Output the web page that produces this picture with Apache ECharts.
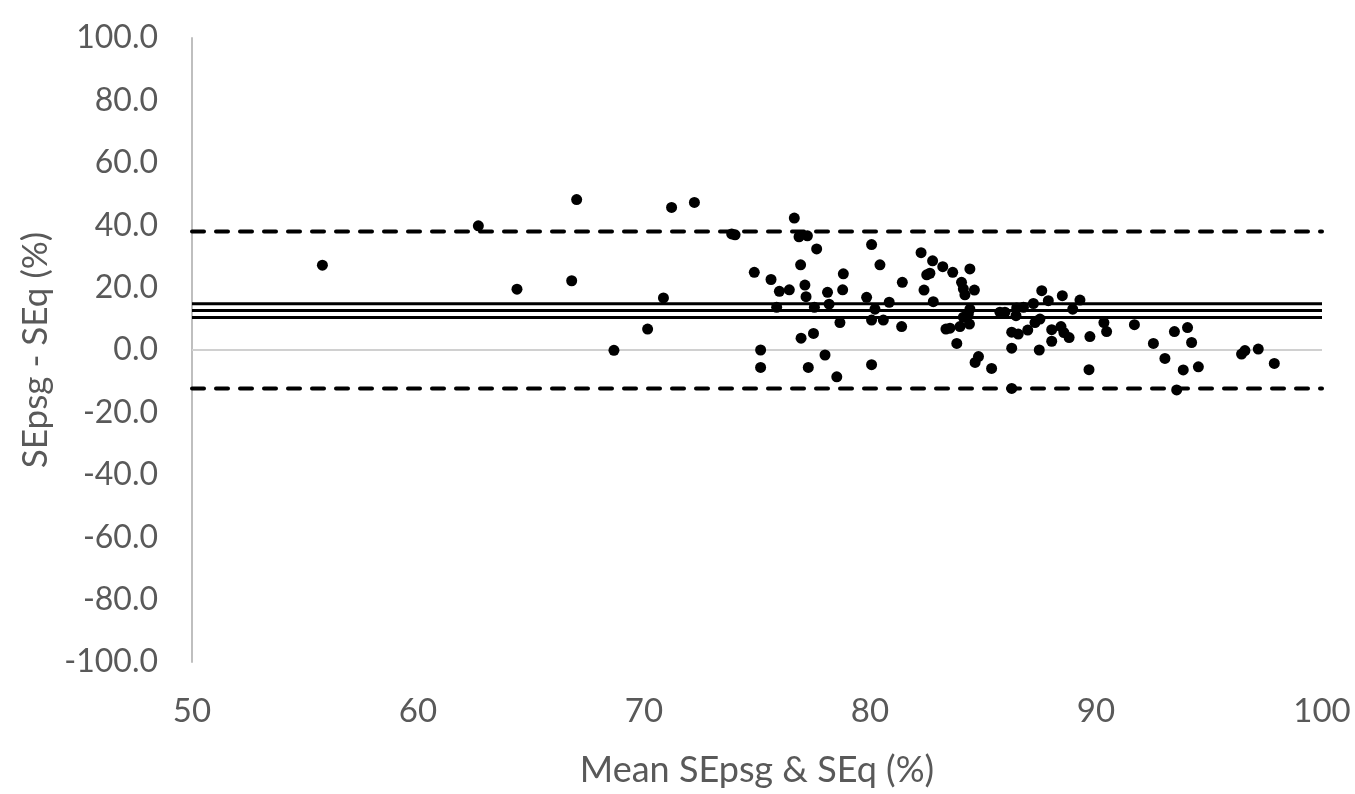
<!DOCTYPE html>
<html>
<head>
<meta charset="utf-8">
<style>
  html, body { margin: 0; padding: 0; background: #ffffff; }
  #chart { width: 1355px; height: 794px; }
</style>
<script src="https://cdn.jsdelivr.net/npm/echarts@6/dist/echarts.min.js"></script>
</head>
<body>
<div id="chart"></div>
<script>
// Bland–Altman plot: mean of SEpsg and SEq against their difference
const meanValues = [
  55.77, 62.67, 64.38, 67.02, 66.80, 68.67, 70.16, 70.86, 71.22, 72.23,
  73.88, 74.03, 76.65, 76.86, 77.23, 77.64, 76.93, 74.88, 75.62, 75.99,
  76.43, 77.12, 77.17, 78.82, 78.79, 78.12, 75.87, 77.54, 78.19, 78.67,
  77.50, 76.95, 75.16, 75.16, 77.27, 78.01, 78.53, 80.07, 80.44, 82.26,
  82.77, 83.22, 83.66, 84.42, 82.51, 82.65, 81.43, 84.05, 84.13, 84.62,
  82.39, 84.20, 79.85, 80.85, 82.80, 80.22, 80.07, 80.59, 81.40, 83.36,
  83.54, 83.98, 84.40, 84.13, 84.35, 84.42, 83.84, 80.07, 84.65, 84.80,
  85.38, 87.60, 87.89, 88.51, 89.29, 88.97, 87.23, 86.49, 86.79, 85.75,
  85.97, 86.46, 87.52, 87.30, 90.35, 90.47, 91.70, 86.27, 86.56, 86.98,
  88.04, 88.45, 88.58, 88.81, 88.04, 89.73, 86.27, 87.49, 89.69, 86.27,
  92.54, 93.47, 94.05, 94.23, 93.05, 93.86, 94.53, 93.57, 96.44, 96.59,
  97.18, 97.89
];
const diffValues = [
  27.2, 39.8, 19.5, 48.2, 22.2, -0.1, 6.7, 16.7, 45.7, 47.3,
  37.2, 36.9, 42.3, 36.3, 36.6, 32.4, 27.3, 24.9, 22.6, 18.8,
  19.3, 20.8, 17.1, 24.4, 19.3, 18.5, 13.7, 13.7, 14.7, 8.8,
  5.3, 3.8, 0.0, -5.6, -5.6, -1.6, -8.6, 33.8, 27.3, 31.2,
  28.6, 26.7, 24.9, 26.0, 24.1, 24.6, 21.7, 21.7, 19.6, 19.2,
  19.2, 17.7, 16.9, 15.3, 15.5, 13.1, 9.6, 9.6, 7.5, 6.7,
  7.0, 7.5, 8.3, 10.5, 11.5, 13.1, 2.1, -4.7, -4.0, -2.1,
  -5.9, 19.0, 15.8, 17.4, 16.0, 13.1, 14.9, 13.5, 13.7, 12.1,
  12.1, 11.0, 9.9, 8.8, 8.8, 5.9, 8.1, 5.7, 5.1, 6.4,
  6.5, 7.5, 5.6, 4.0, 2.8, 4.3, 0.6, 0.0, -6.3, -12.3,
  2.1, 5.9, 7.2, 2.4, -2.7, -6.4, -5.4, -12.8, -1.3, -0.2,
  0.3, -4.3
];

// Mean bias with its confidence interval, and limits of agreement
const biasLines = [14.8, 12.7, 10.4];
const agreementLimits = [38.0, -12.3];

const xRange = [50, 100];
const yRange = [-100, 100];
const yStep = 20;
const xStep = 10;

const points = meanValues.map((m, i) => [m, diffValues[i]]);

const textColor = '#595959';
const fontFamily = 'Lato, "Liberation Sans", sans-serif';

function hLine(value, style) {
  return {
    type: 'line',
    data: [[xRange[0], value], [xRange[1], value]],
    symbol: 'none',
    silent: true,
    animation: false,
    lineStyle: style,
    z: 1
  };
}

const series = [
  hLine(0, { color: '#d0d0d0', width: 2 }),
  ...biasLines.map(v => hLine(v, { color: '#000000', width: 3 })),
  ...agreementLimits.map(v => hLine(v, { color: '#000000', width: 4, type: [12, 12], cap: 'round' })),
  {
    type: 'scatter',
    data: points,
    symbol: 'circle',
    symbolSize: 11,
    itemStyle: { color: '#000000', opacity: 1 },
    animation: false,
    z: 3
  }
];

const chart = echarts.init(document.getElementById('chart'), null, { renderer: 'canvas' });
chart.setOption({
  backgroundColor: '#ffffff',
  animation: false,
  grid: { left: 192, right: 33, top: 38, bottom: 132, containLabel: false },
  xAxis: {
    type: 'value',
    min: xRange[0],
    max: xRange[1],
    interval: xStep,
    name: 'Mean SEpsg & SEq (%)',
    nameLocation: 'middle',
    nameGap: 90,
    nameTextStyle: { color: textColor, fontSize: 36, fontFamily: fontFamily },
    axisLine: { show: false },
    axisTick: { show: false },
    splitLine: { show: false },
    axisLabel: { color: textColor, fontSize: 33, fontFamily: fontFamily, margin: 33 }
  },
  yAxis: {
    type: 'value',
    min: yRange[0],
    max: yRange[1],
    interval: yStep,
    name: 'SEpsg - SEq (%)',
    nameLocation: 'middle',
    nameGap: 138,
    nameTextStyle: { color: textColor, fontSize: 35, fontFamily: fontFamily },
    axisLine: { show: true, onZero: false, lineStyle: { color: '#bfbfbf', width: 2 } },
    axisTick: { show: false },
    splitLine: { show: false },
    axisLabel: {
      color: textColor, fontSize: 32, fontFamily: fontFamily, margin: 34,
      formatter: v => v.toFixed(1)
    }
  },
  series: series
});
</script>
</body>
</html>
